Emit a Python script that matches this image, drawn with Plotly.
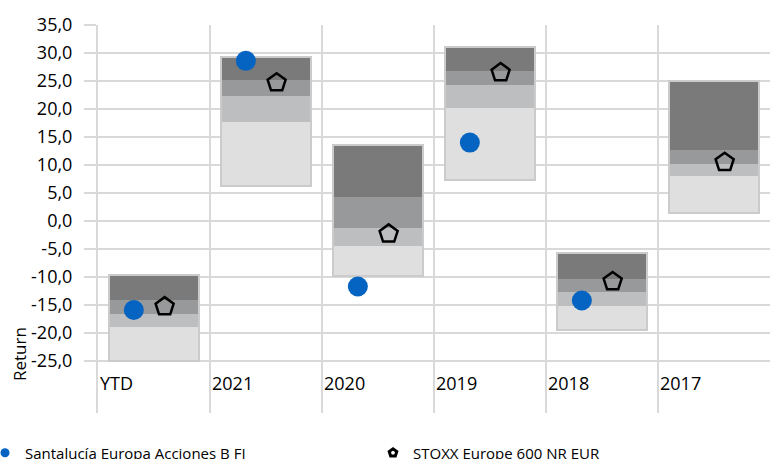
import plotly.graph_objects as go

# ---- data ----
categories = ["YTD", "2021", "2020", "2019", "2018", "2017"]
band_min = [-25.0, 6.3, -9.8, 7.3, -19.5, 1.4]
band_q1 = [-19.0, 17.7, -4.4, 20.2, -15.1, 8.1]
band_med = [-16.6, 22.4, -1.2, 24.2, -12.6, 10.2]
band_q3 = [-14.1, 25.2, 4.2, 26.7, -10.4, 12.7]
band_max = [-9.6, 29.2, 13.5, 31.0, -5.8, 25.0]
fund_returns = [-15.9, 28.6, -11.7, 14.0, -14.2, None]
index_returns = [-15.3, 24.7, -2.3, 26.5, -10.8, 10.5]
fund_name = "Santalucía Europa Acciones B FI"
index_name = "STOXX Europe 600 NR EUR"
y_tick_values = [-25, -20, -15, -10, -5, 0, 5, 10, 15, 20, 25, 30, 35]
y_tick_labels = ["-25,0", "-20,0", "-15,0", "-10,0", "-5,0", "0,0", "5,0",
                 "10,0", "15,0", "20,0", "25,0", "30,0", "35,0"]
y_title = "Return"

# ---- styling ----
FONT = "Open Sans"
GRID = "#d9d9d9"
BAND_COLORS = ["#dfdfdf", "#bdbebf", "#98999a", "#7a7a7a"]
BLUE = "#0563c1"

n = len(categories)
x_center = [i + 0.5 for i in range(n)]
x_fund = [i + 0.32 for i in range(n)]
x_index = [i + 0.595 for i in range(n)]

fig = go.Figure()

lows = [band_min, band_q1, band_med, band_q3]
highs = [band_q1, band_med, band_q3, band_max]
for lo, hi, col in zip(lows, highs, BAND_COLORS):
    fig.add_trace(go.Bar(
        x=x_center, y=[h - l for l, h in zip(lo, hi)], base=lo, width=0.8,
        marker=dict(color=col, line=dict(width=0)), showlegend=False,
        hoverinfo="skip"))

# outline of each box
fig.add_trace(go.Bar(
    x=x_center, y=[h - l for l, h in zip(band_min, band_max)], base=band_min,
    width=0.8, marker=dict(color="rgba(0,0,0,0)", line=dict(color="#cbcbcb", width=2)),
    showlegend=False, hoverinfo="skip"))

fig.add_trace(go.Scatter(
    x=x_fund, y=fund_returns, mode="markers", name=fund_name, showlegend=False,
    marker=dict(symbol="circle", size=20, color=BLUE, line=dict(width=0))))
fig.add_trace(go.Scatter(
    x=x_index, y=index_returns, mode="markers", name=index_name, showlegend=False,
    marker=dict(symbol="pentagon-open", size=19, color="black", line=dict(width=2.5, color="black"))))

# legend-only entries (smaller symbols, as in the reference legend)
fig.add_trace(go.Scatter(
    x=[None], y=[None], mode="markers", name=fund_name, legend="legend",
    marker=dict(symbol="circle", size=9, color=BLUE)))
fig.add_trace(go.Scatter(
    x=[None], y=[None], mode="markers", name=index_name, legend="legend2",
    marker=dict(symbol="pentagon-open", size=8, color="black", line=dict(width=3, color="black"))))

for i, c in enumerate(categories):
    fig.add_annotation(x=i, y=-25, xref="x", yref="y", text=c, showarrow=False,
                       xanchor="left", yanchor="middle", xshift=0, yshift=-22,
                       font=dict(family=FONT, size=18, color="black"))

fig.add_annotation(x=(19 - 98) / 672, y=(413 - 354) / 388, xref="paper", yref="paper",
                   text=y_title, textangle=-90, showarrow=False,
                   xanchor="center", yanchor="middle",
                   font=dict(family=FONT, size=17, color="black"))

legend_common = dict(orientation="h", xanchor="left", yanchor="middle",
                     bgcolor="rgba(0,0,0,0)", traceorder="normal",
                     font=dict(family=FONT, size=15, color="black"))

fig.update_layout(
    width=772, height=459,
    margin=dict(l=98, r=2, t=25, b=46, autoexpand=False),
    paper_bgcolor="white", plot_bgcolor="white",
    barmode="overlay", bargap=0,
    font=dict(family=FONT, color="black"),
    xaxis=dict(range=[0, n], tickvals=list(range(n + 1)), showticklabels=False,
               showgrid=True, gridcolor=GRID, gridwidth=2, zeroline=False,
               showline=False, ticks="", fixedrange=True),
    yaxis=dict(range=[-34.29, 35], tickvals=y_tick_values, ticktext=y_tick_labels,
               showgrid=True, gridcolor=GRID, gridwidth=2, zeroline=False,
               showline=True, linecolor=GRID, linewidth=2,
               ticks="outside", ticklen=12, tickwidth=2, tickcolor=GRID,
               ticklabelstandoff=8,
               tickfont=dict(family=FONT, size=18, color="black")),
    legend=dict(x=(-15 - 98) / 672, y=-40 / 388, **legend_common),
    legend2=dict(x=(373 - 98) / 672, y=-40 / 388, **legend_common),
    showlegend=True,
)

fig.write_html(
    "out.html",
    config={"displayModeBar": False},
    post_script="document.body.style.margin='0';document.body.style.overflow='hidden';"
                "document.documentElement.style.overflow='hidden';",
)
